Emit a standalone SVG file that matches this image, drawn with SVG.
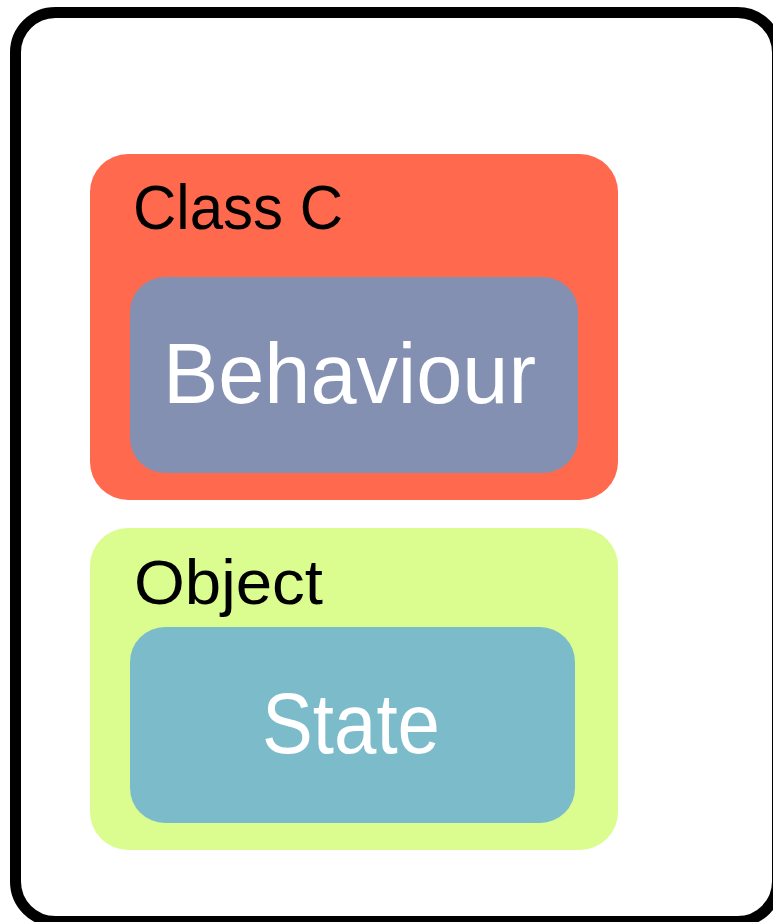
<svg xmlns="http://www.w3.org/2000/svg" width="773" height="922" viewBox="0 0 773 922">
<style>
.lbl{font-family:"Liberation Sans",Arial,sans-serif;fill:#000}
.big{font-family:"Liberation Sans",Arial,sans-serif;fill:#fff}
</style>
<rect width="773" height="922" fill="#fff"/>
<g id="frame">
<rect x="15.5" y="12.5" width="762" height="909" rx="40" ry="40" fill="#fff" stroke="#000" stroke-width="11"/>
</g>
<g id="classC">
<rect x="90" y="154" width="528" height="346" rx="38" fill="#FF694E"/>
<text class="lbl" x="133" y="229" font-size="63" textLength="210" lengthAdjust="spacingAndGlyphs">Class C</text>
</g>
<g id="behaviour">
<rect x="130" y="277" width="448" height="196" rx="35" fill="#8490B2"/>
<text class="big" x="163" y="403" font-size="85" textLength="373" lengthAdjust="spacingAndGlyphs">Behaviour</text>
</g>
<g id="object">
<rect x="90" y="528" width="528" height="322" rx="38" fill="#DBFC8E"/>
<text class="lbl" x="134" y="604" font-size="63" textLength="189" lengthAdjust="spacingAndGlyphs">Object</text>
</g>
<g id="state">
<rect x="130" y="627" width="445" height="196" rx="35" fill="#7BBBCA"/>
<text class="big" x="262" y="753" font-size="85" textLength="178" lengthAdjust="spacingAndGlyphs">State</text>
</g>
<g id="connectors"/>
</svg>
